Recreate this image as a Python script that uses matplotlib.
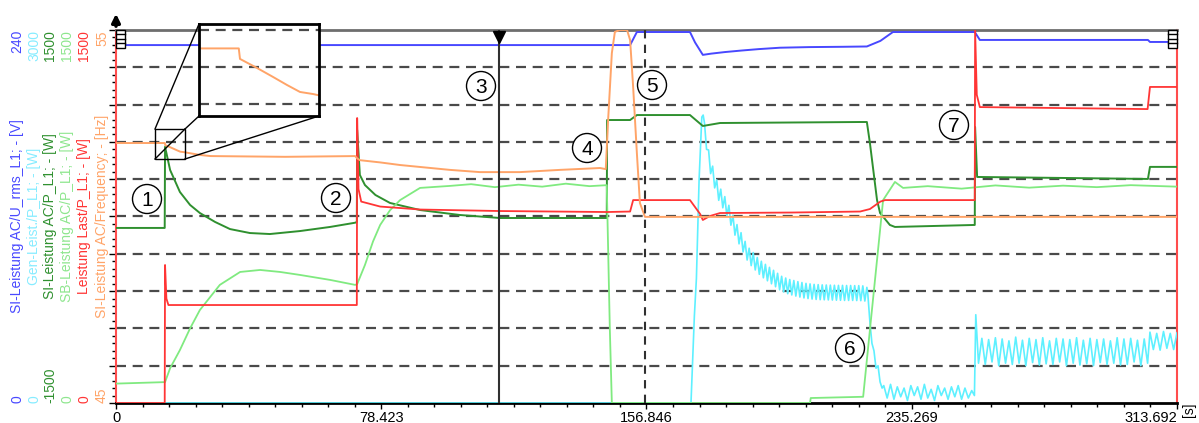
import numpy as np
import matplotlib.pyplot as plt
from matplotlib.patches import Rectangle, Ellipse
from matplotlib.lines import Line2D
from matplotlib.ticker import MultipleLocator

plt.rcParams['font.family'] = ['Liberation Sans', 'DejaVu Sans']

T_END = 313.692
x_ticks = [0, 78.423, 156.846, 235.269, 313.692]
x_labels = ['0', '78.423', '156.846', '235.269', '313.692']

# SI-Leistung AC / U_rms [V]
u_lim = (0, 240)
u_t = [0, 152.0, 154.0, 169.7, 171.2, 173.5, 176, 180, 185, 190, 196.3, 205, 215, 222.0, 226.0, 229.7,
       253.9, 255.4, 305.1, 305.7, 313.692]
u_v = [230.3, 230.3, 238.7, 238.7, 232.0, 224.0, 224.8, 225.8, 226.8, 227.7, 228.6, 229.0, 229.2, 229.4,
       233.0, 238.7, 238.7, 233.6, 233.6, 232.3, 232.3]

# Gen-Leist. P [W]
gen_lim = (0, 3000)
gen_rise_t = [0, 169.8, 170.0, 171.0, 171.6, 172.4, 173.2, 173.6]
gen_rise_v = [0, 0, 0, 700, 1000, 1800, 2300, 2316]
gen_decay_v = [2250, 2040, 2035, 1845, 1905, 1730, 1795, 1630, 1720, 1570, 1660, 1505, 1590, 1430, 1510,
               1350, 1435, 1280, 1370, 1215, 1300, 1150, 1245, 1105, 1210, 1070, 1170, 1035, 1140, 1007,
               1115, 983, 1091, 959, 1067, 935, 1043, 911, 1019, 893, 1005, 879, 993, 869, 985, 860, 976,
               852, 969, 845, 962, 840, 958, 836, 954, 833, 952, 831, 950, 830, 949, 829, 948, 828, 947,
               827, 946, 826, 946, 825, 945, 825, 945, 825, 944, 824, 944, 823, 942, 820, 930]   # every 0.6 s from 174
gen_drop_t = [222.3, 222.9, 223.5, 224.1, 224.7, 225.3, 225.9, 226.5]
gen_drop_v = [870, 650, 480, 420, 280, 300, 170, 120]
gen_low_v = [140, 40, 150, 30, 130, 50, 120, 20, 140, 60, 130, 30, 150, 40, 110, 20, 140, 60, 120, 30,
             130, 50, 140, 30, 120, 40, 100]   # t = 227 ... 253
gen_step_t = [253.8, 254.2, 254.6]
gen_step_v = [60, 710, 520]
gen_high_v = [320, 520, 310, 510, 330, 525, 300, 515, 320, 500, 310, 530, 320, 505, 300, 520, 325, 510,
              305, 525, 315, 500, 310, 520, 330, 515, 300, 510, 320, 525, 305, 505, 315, 520, 300, 510,
              325, 515, 310, 500, 320, 525, 305, 515, 310, 520, 330, 505, 300, 515, 320]   # t = 255 ... 305
gen_end_v = [570, 430, 560, 425, 575, 440, 560, 430, 565]   # t = 305.7 ... 313.7

# SI-Leistung AC / P [W]
si_lim = (-1500, 1500)
si_t = [0, 14.4, 14.5, 16.0, 18.9, 21.9, 24.8, 29.3, 33.7, 39.6, 45.5, 54.4, 63.3, 70.7, 71.2, 71.3, 72.1,
        73.6, 76.7, 81.0, 89.9, 101.7, 113.5, 145.1, 145.2, 152.0, 154.0, 169.7, 173.5, 178.6, 220.0, 222.0,
        222.9, 225.0, 225.9, 228.8, 230.3, 253.9, 254.0, 254.6, 305.1, 305.7, 313.692]
si_v = [-92, -92, 560, 374, 197, 93, 28, -44, -101, -133, -141, -117, -84, -50, -44, 696, 334, 253, 173,
        109, 52, 12, -12, -12, 776, 776, 816, 816, 728, 752, 760, 760, 591, 133, 28, -68, -84, -68, 720,
        318, 302, 399, 399]

# SB-Leistung AC / P [W]
sb_lim = (0, 1500)
sb_t = [0, 14.5, 16.0, 18.9, 21.9, 24.8, 30.7, 36.7, 42.6, 48.5, 54.4, 63.3, 70.7, 71.3, 73.6, 76.0, 78.1,
        81.0, 84.0, 89.9, 98.7, 105, 112, 119, 126, 133, 140, 145.1, 146.0, 146.6, 205.2, 205.4, 220.9,
        222.9, 225.0, 226.8, 230.3, 232.7, 240, 250, 260, 270, 280, 290, 300, 313.692]
sb_v = [78, 84, 140, 213, 300, 374, 475, 527, 535, 527, 515, 495, 475, 478, 555, 650, 716, 775, 816, 865,
        873, 880, 868, 878, 870, 882, 872, 876, 300, 0, 0, 20, 25, 294, 575, 816, 889, 865, 872, 862, 875,
        866, 874, 868, 876, 870]

# Leistung Last / P [W]
last_lim = (0, 1500)
last_t = [0, 14.4, 14.5, 14.9, 15.5, 40, 71.2, 71.3, 71.7, 72.5, 78.1, 90, 113.5, 145.2, 152.0, 152.9,
          169.7, 172.7, 173.5, 175.6, 178.6, 200, 220.0, 222.9, 226.0, 227.4, 253.9, 254.0, 254.5, 255.4,
          280, 305.0, 305.7, 313.692]
last_v = [0, 0, 555, 420, 394, 394, 394, 1146, 860, 810, 790, 778, 772, 768, 770, 816, 816, 760, 736, 752,
          764, 766, 770, 780, 810, 816, 816, 1500, 1239, 1190, 1186, 1182, 1271, 1271]

# SI-Leistung AC / Frequency [Hz]
freq_lim = (45, 55)
freq_t = [0, 14.45, 14.54, 15.8, 16.99, 18.03, 18.99, 19.96, 20.4, 24.8, 28.0, 50, 70.7, 71.3, 72.1, 78.1,
          84.0, 98.7, 107.6, 119.4, 131.3, 143.1, 144.8, 145.5, 146.6, 147.5, 149.0, 151.1, 152.0, 152.9,
          154.0, 154.9, 156.4, 313.692]
freq_v = [51.97, 51.97, 51.914, 51.866, 51.818, 51.775, 51.738, 51.727, 51.72, 51.65, 51.62, 51.60, 51.62,
          51.56, 51.51, 51.45, 51.38, 51.25, 51.19, 51.19, 51.25, 51.30, 51.27, 52.59, 54.38, 54.95, 55.0,
          55.0, 54.73, 53.47, 51.70, 50.36, 49.99, 49.99]

cursor_solid = 113.2
cursor_dashed = 156.5
zoom_t = (11.5, 20.4)
zoom_f = (51.61, 52.10)
markers = ['1', '2', '3', '4', '5', '6', '7']

# build the generator series from its pieces
gen_t = (gen_rise_t + list(174 + 0.6 * np.arange(len(gen_decay_v))) + gen_drop_t
         + list(np.arange(227, 227 + len(gen_low_v))) + gen_step_t
         + list(np.arange(255, 255 + len(gen_high_v))) + list(305.7 + np.arange(len(gen_end_v))))
gen_v = gen_rise_v + gen_decay_v + gen_drop_v + gen_low_v + gen_step_v + gen_high_v + gen_end_v

c_u, c_u_lab = '#4848ff', '#4848ff'
c_gen, c_gen_lab = '#5ef0ff', '#86ecff'
c_si = '#2f902f'
c_sb, c_sb_lab = '#80ea80', '#8ee68e'
c_last = '#ff3535'
c_freq = '#ffa468'

W, H = 1199, 423
L, R, TOP, BOT = 116, 1177, 30, 403

fig = plt.figure(figsize=(W / 100, H / 100), dpi=100)
ax = fig.add_axes([L / W, (H - BOT) / H, (R - L) / W, (BOT - TOP) / H])
ax.set_xlim(0, T_END)
ax.set_ylim(0, 10)
for k in range(1, 10):
    ax.axhline(k, color='#4a4a4a', lw=1.6, ls=(0, (4.5, 3.0)), zorder=1)

ax.spines['left'].set_color('#ff4d4d')
ax.spines['right'].set_color('#ff4d4d')
ax.spines['left'].set_linewidth(1.5)
ax.spines['right'].set_linewidth(1.5)
ax.spines['top'].set_color('#6e6e6e')
ax.spines['top'].set_linewidth(2)
ax.spines['bottom'].set_color('black')
ax.spines['bottom'].set_linewidth(2)

ax.yaxis.set_major_locator(MultipleLocator(1))
ax.yaxis.set_minor_locator(MultipleLocator(0.2))
ax.tick_params(axis='y', which='both', left=True, labelleft=False, color='black')
ax.tick_params(axis='y', which='major', length=5, width=1)
ax.tick_params(axis='y', which='minor', length=3, width=1)

ax.set_xticks(x_ticks)
ax.set_xticklabels(x_labels, fontsize=10.5)
ax.xaxis.set_minor_locator(MultipleLocator(x_ticks[1] / 10))
ax.tick_params(axis='x', which='major', length=4, width=1, pad=2)
ax.tick_params(axis='x', which='minor', length=3, width=1)
ax.get_xticklabels()[-1].set_ha('right')


def series_axis(lim):
    a = ax.twinx()
    a.set_ylim(*lim)
    a.set_axis_off()
    return a


a_u = series_axis(u_lim)
a_u.plot(u_t, u_v, color=c_u, lw=1.4)
a_gen = series_axis(gen_lim)
a_gen.plot(gen_t, gen_v, color=c_gen, lw=1.2)
a_si = series_axis(si_lim)
a_si.plot(si_t, si_v, color=c_si, lw=1.4)
a_sb = series_axis(sb_lim)
a_sb.plot(sb_t, sb_v, color=c_sb, lw=1.3)
a_last = series_axis(last_lim)
a_last.plot(last_t, last_v, color=c_last, lw=1.3)
a_freq = series_axis(freq_lim)
a_freq.plot(freq_t, freq_v, color=c_freq, lw=1.4)
a_freq.add_patch(Rectangle((zoom_t[0], 51.54), zoom_t[1] - zoom_t[0], 0.81,
                           fill=False, ec='black', lw=1, zorder=5))

# overlay for cursors and circled markers
ov = series_axis((0, 1))
ov.axvline(cursor_solid, color='#303030', lw=1.5)
ov.plot([cursor_solid], [0.982], marker='v', ms=8, color='black', clip_on=False)
ov.axvline(cursor_dashed, color='#303030', lw=1.5, ls=(0, (4, 3)))

circle_px = [(147, 199), (336, 198), (481, 86), (587, 148), (652, 85), (850, 348), (954, 125)]
for lab, (px, py) in zip(markers, circle_px):
    cx, cy = (px - L) / (R - L), (BOT - py) / (BOT - TOP)
    ov.add_patch(Ellipse((cx, cy), 29 / (R - L), 29 / (BOT - TOP), transform=ov.transAxes,
                         fc='white', ec='black', lw=1, zorder=10))
    ov.text(cx, cy - 0.003, lab, transform=ov.transAxes, ha='center', va='center', fontsize=15, zorder=11)

# left-side scale labels
scales = [
    (u_lim, c_u_lab, 'SI-Leistung AC/U_rms_L1; - [V]', 17),
    (gen_lim, c_gen_lab, 'Gen-Leist./P_L1; - [W]', 34),
    (si_lim, c_si, 'SI-Leistung AC/P_L1; - [W]', 50),
    (sb_lim, c_sb_lab, 'SB-Leistung AC/P_L1; - [W]', 67),
    (last_lim, c_last, 'Leistung Last/P_L1; - [W]', 84),
    (freq_lim, c_freq, 'SI-Leistung AC/Frequency; - [Hz]', 102),
]
for (lo, hi), col, name, px in scales:
    xf = (px - L) / (R - L)
    ax.text(xf, 1.0, f'{hi:g}', transform=ax.transAxes, rotation=90, ha='center', va='top',
            color=col, fontsize=10, clip_on=False)
    ax.text(xf, 0.0, f'{lo:g}', transform=ax.transAxes, rotation=90, ha='center', va='bottom',
            color=col, fontsize=10, clip_on=False)
    ax.text(xf, 0.5, name, transform=ax.transAxes, rotation=90, ha='center', va='center',
            color=col, fontsize=10, clip_on=False)

fig.text(1189 / W, 1 - 410 / H, '[s]', rotation=90, ha='center', va='center', fontsize=10)

# zoom inset
ax_in = fig.add_axes([199 / W, (H - 116) / H, 120 / W, 92 / H])
ax_in.set_facecolor('white')
for yy in [0.935, 0.533, 0.130]:
    ax_in.plot([0, 1], [yy, yy], transform=ax_in.transAxes, color='#4a4a4a', lw=1.6, ls=(0, (4.5, 3.0)))
ax_in.plot(freq_t, freq_v, color=c_freq, lw=1.4)
ax_in.set_xlim(*zoom_t)
ax_in.set_ylim(*zoom_f)
ax_in.set_xticks([])
ax_in.set_yticks([])
for s in ax_in.spines.values():
    s.set_color('black')
    s.set_linewidth(2)


def px_line(x1, y1, x2, y2):
    fig.add_artist(Line2D([x1 / W, x2 / W], [1 - y1 / H, 1 - y2 / H], transform=fig.transFigure,
                          color='black', lw=1))


px_line(155, 129, 199, 24)
px_line(185, 129, 199, 116)
px_line(185, 159, 319, 116)
px_line(155, 159, 185, 129)

# top-left arrow and the small handle boxes
ax.annotate('', xy=(L / W, 1 - 11 / H), xytext=(L / W, 1 - 29 / H), xycoords='figure fraction',
            arrowprops=dict(arrowstyle='-|>', color='black', lw=2.5, mutation_scale=12))
for x0 in [L, R - 9]:
    fig.add_artist(Rectangle((x0 / W, 1 - 48 / H), 9 / W, 18 / H, transform=fig.transFigure,
                             fc='white', ec='black', lw=1))
    for yy in [34.5, 39, 43.5]:
        fig.add_artist(Line2D([x0 / W, (x0 + 9) / W], [1 - yy / H, 1 - yy / H], transform=fig.transFigure,
                              color='black', lw=1))

fig.savefig('out.png', dpi=100)
